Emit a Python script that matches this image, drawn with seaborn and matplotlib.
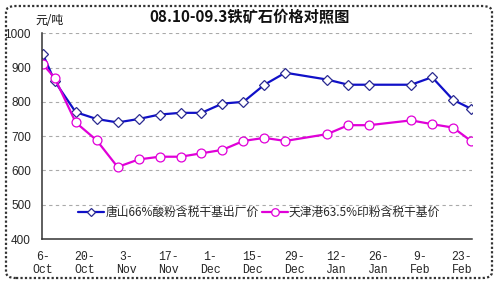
import matplotlib
matplotlib.use("Agg")
import matplotlib.pyplot as plt
from matplotlib.patches import FancyBboxPatch
import seaborn as sns
import pandas as pd

# ---- data ----
dates = ["2008-10-06", "2008-10-10", "2008-10-17", "2008-10-24", "2008-10-31",
         "2008-11-07", "2008-11-14", "2008-11-21", "2008-11-28", "2008-12-05",
         "2008-12-12", "2008-12-19", "2008-12-26", "2009-01-09", "2009-01-16",
         "2009-01-23", "2009-02-06", "2009-02-13", "2009-02-20", "2009-02-26"]
tangshan = [940, 860, 770, 750, 740, 750, 763, 768, 768, 795,
            800, 850, 885, 865, 850, 850, 850, 872, 806, 780]
tianjin = [910, 870, 740, 688, 610, 632, 640, 640, 650, 660,
           686, 695, 686, 706, 732, 732, 746, 735, 725, 686]
series_names = ["唐山66%酸粉含税干基出厂价", "天津港63.5%印粉含税干基价"]
series_colors = ["#1010C8", "#E000D8"]
series_markers = ["D", "o"]
tick_dates = ["2008-10-06", "2008-10-20", "2008-11-03", "2008-11-17", "2008-12-01",
              "2008-12-15", "2008-12-29", "2009-01-12", "2009-01-26", "2009-02-09",
              "2009-02-23"]
tick_labels = ["6-\nOct", "20-\nOct", "3-\nNov", "17-\nNov", "1-\nDec", "15-\nDec",
               "29-\nDec", "12-\nJan", "26-\nJan", "9-\nFeb", "23-\nFeb"]
y_ticks = [400, 500, 600, 700, 800, 900, 1000]
title = "08.10-09.3铁矿石价格对照图"
unit = "元/吨"

sns.set_style("white")
plt.rcParams["font.family"] = ["Noto Sans CJK SC", "DejaVu Sans"]

fig = plt.figure(figsize=(5.0, 2.86), dpi=100)
ax = fig.add_axes([42 / 500, 1 - 239 / 286, 430 / 500, (239 - 33.3) / 286])

x = pd.to_datetime(dates)
for vals, name, col, mk, ms in zip([tangshan, tianjin], series_names, series_colors,
                                   series_markers, [5.2, 6.4]):
    df = pd.DataFrame({"date": x, "price": vals})
    sns.lineplot(data=df, x="date", y="price", ax=ax, color=col, linewidth=1.6,
                 marker=mk, markersize=ms, markerfacecolor="white",
                 markeredgecolor=col, markeredgewidth=0.9, label=name)

for line, col in zip(ax.lines, series_colors):
    line.set_markerfacecolor("white")
    line.set_markeredgecolor(col if col != series_colors[0] else "#2A2A90")

ax.set_xlim(pd.Timestamp("2008-10-05 18:00"), pd.Timestamp("2009-02-26 08:00"))
ax.set_ylim(400, 1000)
ax.set_xticks(pd.to_datetime(tick_dates))
ax.set_xticklabels(tick_labels, family=["Liberation Mono", "DejaVu Sans"], fontsize=8.3,
                   linespacing=1.05)
ax.set_yticks(y_ticks)
ax.set_yticklabels([str(v) for v in y_ticks], family=["Liberation Sans"], fontsize=8.5)
ax.tick_params(axis="x", direction="out", length=4, width=1, color="#333333", pad=5)
ax.tick_params(axis="y", direction="out", length=4, width=1, color="#333333", pad=4)
ax.set_xlabel("")
ax.set_ylabel("")

for y in y_ticks[1:]:
    ax.axhline(y, color="#AAAAAA", linestyle=(0, (3, 3)), linewidth=0.8, zorder=0)

for s in ["top", "right"]:
    ax.spines[s].set_visible(False)
for s in ["left", "bottom"]:
    ax.spines[s].set_color("#333333")
    ax.spines[s].set_linewidth(1.1)

leg = ax.legend(loc="center", bbox_to_anchor=(0.505, 0.13), ncol=2, frameon=False,
                fontsize=8.5, handlelength=2.2, handletextpad=0.1, columnspacing=0.3,
                borderaxespad=0, markerscale=0.85)

fig.text(0.5, 1 - 17 / 286, title, ha="center", va="center", fontsize=11,
         fontweight="bold", color="#111111")
fig.text(35 / 500, 1 - 21 / 286, unit, ha="left", va="center", fontsize=8.5,
         color="#111111")

border = FancyBboxPatch((6 / 500, 8 / 286), 486 / 500, 272 / 286,
                        boxstyle="round,pad=0,rounding_size=0.02",
                        transform=fig.transFigure, fill=False, edgecolor="#333333",
                        linewidth=1.6, linestyle=(0, (1, 1)))
fig.patches.append(border)

fig.savefig("out.png", dpi=100)
